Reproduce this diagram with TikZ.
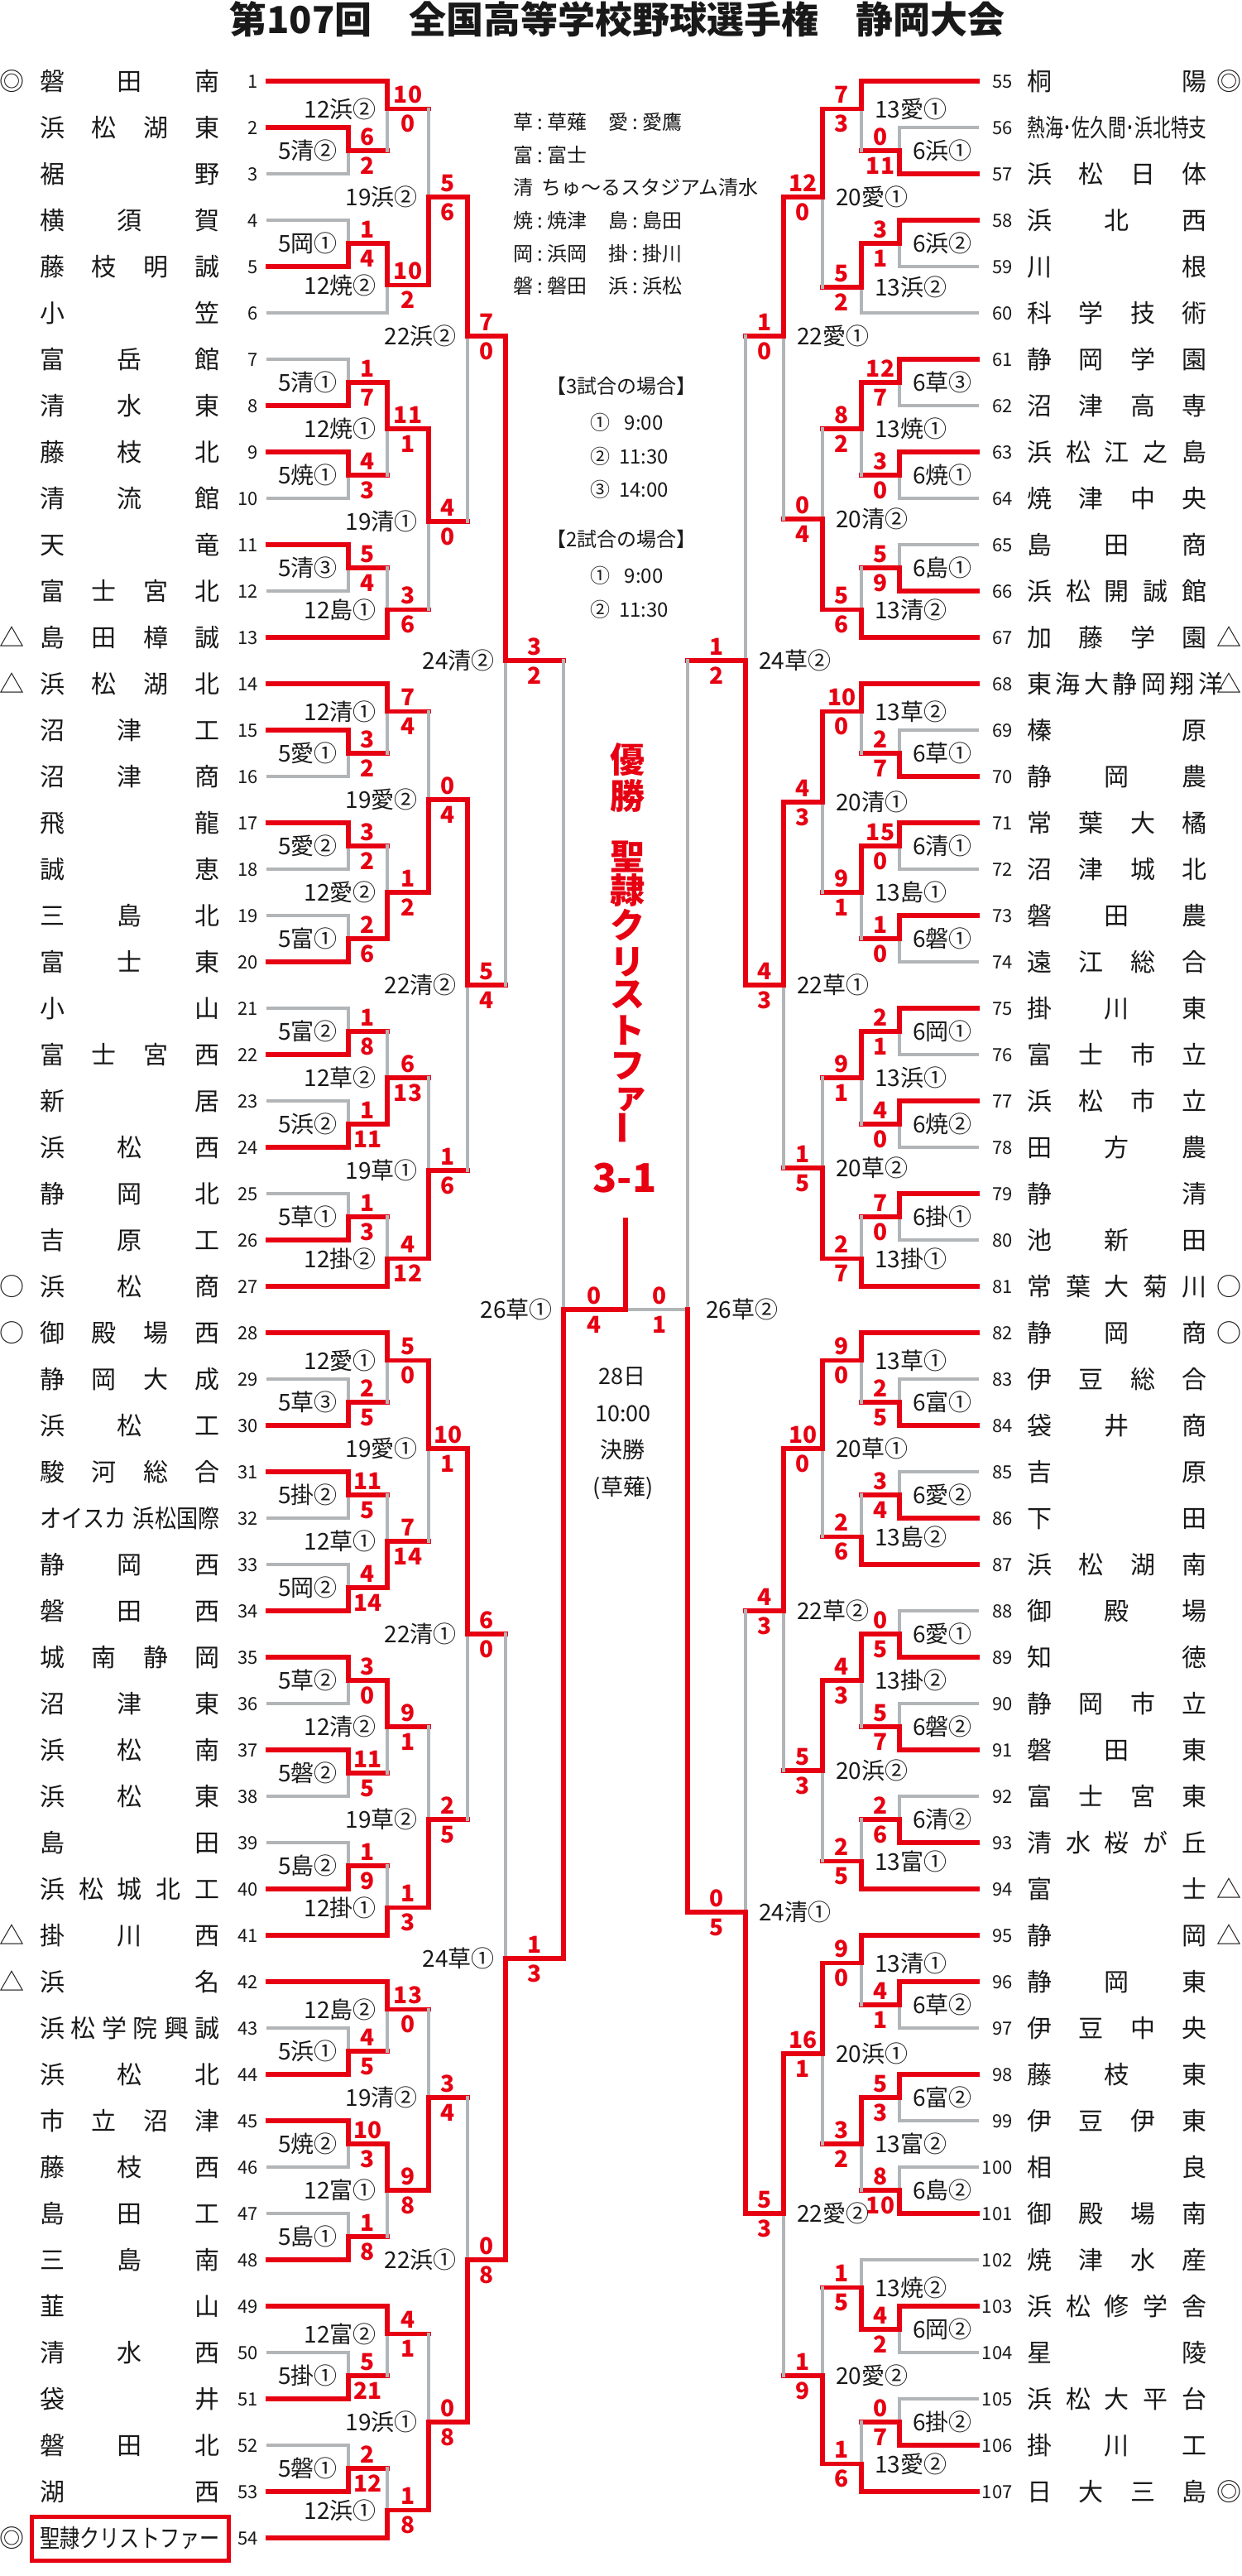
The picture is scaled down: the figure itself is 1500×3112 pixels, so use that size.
\documentclass[tikz,border=0pt]{standalone}
\usepackage{fontspec}
\setmainfont{Noto Sans CJK JP}
\usepackage{graphicx}
\usetikzlibrary{calc}
\definecolor{jred}{RGB}{230,0,18}
\definecolor{jgrey}{RGB}{178,181,184}
\definecolor{jink}{RGB}{25,25,25}
\def\cLa{421}\def\cLb{468}\def\cLc{518}\def\cLd{565}\def\cLe{611}\def\cLf{681}
\def\cRa{1087}\def\cRb{1041}\def\cRc{994}\def\cRd{947}\def\cRe{901}\def\cRf{831}
\def\scsplit#1/#2\relax{\def\scA{#1}\def\scB{#2}}
\newcommand\cln{\hspace{2.5pt}:\hspace{2.5pt}}
\tikzset{
  rl/.style={draw=jred, line width=2.75pt, line cap=rect, line join=miter},
  gl/.style={draw=jgrey, line width=1.75pt, line cap=rect},
  tname/.style={inner sep=0pt, text=jink, font=\fontsize{15pt}{15pt}\selectfont, text height=11.4pt, text depth=0pt},
  num/.style={inner sep=0pt, text=jink, font=\fontsize{11pt}{11pt}\selectfont, text height=8pt, text depth=0pt},
  lab/.style={inner sep=0pt, text=jink, font=\fontsize{14pt}{14pt}\selectfont, text height=10.6pt, text depth=0pt},
  sc/.style={inner sep=0pt, text=jred, font=\fontsize{14pt}{14pt}\selectfont\bfseries, text height=10.2pt, text depth=0pt},
  mk/.style={inner sep=0pt, text=jink, font=\fontsize{15pt}{15pt}\selectfont, text height=11.4pt, text depth=0pt},
  leg/.style={inner sep=0pt, text=jink, font=\fontsize{12pt}{12pt}\selectfont, text height=9.1pt, text depth=0pt},
  fin/.style={inner sep=0pt, text=jink, font=\fontsize{13.5pt}{13.5pt}\selectfont, text height=10.2pt, text depth=0pt},
  champ/.style={inner sep=0pt, text=jred, font=\fontsize{21pt}{21pt}\selectfont\bfseries, text height=16pt, text depth=0pt},
}
\newcommand\tL[5]{%
  \coordinate (T#1) at (324,{42+56*#1});
  \draw[#5] (T#1) -- (#4,{42+56*#1});
  \node[num,anchor=east] (N#1) at (312,{42+56*#1}) {#1};
  \node[tname] (S#1) at (157,{42+56*#1}) {\makebox[108.5pt][s]{#2}};
  \ifx\relax#3\relax\else\node[mk] (K#1) at (14,{42+56*#1}) {#3};\fi
}
\newcommand\tR[5]{%
  \coordinate (T#1) at (1181,{42+56*(#1-54)});
  \draw[#5] (T#1) -- (#4,{42+56*(#1-54)});
  \node[num,anchor=east] (N#1) at (1224,{42+56*(#1-54)}) {#1};
  \node[tname] (S#1) at (1350,{42+56*(#1-54)}) {\makebox[108.5pt][s]{#2}};
  \ifx\relax#3\relax\else\node[mk] (K#1) at (1485,{42+56*(#1-54)}) {#3};\fi
}
\newcommand\mL[9]{%
  \coordinate (#1) at (#2,{42+56*#6});
  \if t#7\def\mWin{#4}\def\mLos{#5}\else\def\mWin{#5}\def\mLos{#4}\fi
  \draw[gl] (\mLos -| #1) -- (#1);
  \draw[rl] (\mWin -| #1) -- (#1) -- (#3,{42+56*#6});
  \node[lab,anchor=east] (#1L) at ($(#1)+(-13,0)$) {#8};
  \scsplit#9\relax
  \node[sc] (#1A) at ({(#2+#3)/2},{42+56*#6-17}) {\scA};
  \node[sc] (#1B) at ({(#2+#3)/2},{42+56*#6+18}) {\scB};
}
\newcommand\mR[9]{%
  \coordinate (#1) at (#2,{42+56*#6});
  \if t#7\def\mWin{#4}\def\mLos{#5}\else\def\mWin{#5}\def\mLos{#4}\fi
  \draw[gl] (\mLos -| #1) -- (#1);
  \draw[rl] (\mWin -| #1) -- (#1) -- (#3,{42+56*#6});
  \node[lab,anchor=west] (#1L) at ($(#1)+(16,0)$) {#8};
  \scsplit#9\relax
  \node[sc] (#1A) at ({(#2+#3)/2},{42+56*#6-17}) {\scA};
  \node[sc] (#1B) at ({(#2+#3)/2},{42+56*#6+18}) {\scB};
}
\begin{document}
\begin{tikzpicture}[x=0.5pt,y=-0.5pt]
\useasboundingbox (0,0) rectangle (1500,3112);
\fill[white] (0,0) rectangle (1500,3112);
% title
\node[inner sep=0pt, text=jink, font=\fontsize{22.5pt}{22.5pt}\selectfont\bfseries, text height=17.1pt, text depth=0pt] (title) at (746,23) {第107回　全国高等学校野球選手権　静岡大会};
% legend
\node[leg,anchor=west] (lg1) at (620,147) {草\cln 草薙};
\node[leg,anchor=west] (lg2) at (735,147) {愛\cln 愛鷹};
\node[leg,anchor=west] (lg3) at (620,187) {富\cln 富士};
\node[leg,anchor=west] (lg4) at (620,226) {清\hspace{5pt}ちゅ～るスタジアム清水};
\node[leg,anchor=west] (lg5) at (620,266) {焼\cln 焼津};
\node[leg,anchor=west] (lg6) at (735,266) {島\cln 島田};
\node[leg,anchor=west] (lg7) at (620,306) {岡\cln 浜岡};
\node[leg,anchor=west] (lg8) at (735,306) {掛\cln 掛川};
\node[leg,anchor=west] (lg9) at (620,345) {磐\cln 磐田};
\node[leg,anchor=west] (lg10) at (735,345) {浜\cln 浜松};
\node[leg] (sh1) at (751,466) {【3試合の場合】};
\node[leg] (sh2) at (725,510) {①}; \node[leg] (sh3) at (778,510) {9:00};
\node[leg] (sh4) at (725,551) {②}; \node[leg] (sh5) at (778,551) {11:30};
\node[leg] (sh6) at (725,591) {③}; \node[leg] (sh7) at (778,591) {14:00};
\node[leg] (sh8) at (751,651) {【2試合の場合】};
\node[leg] (sh9) at (725,695) {①}; \node[leg] (sh10) at (778,695) {9:00};
\node[leg] (sh11) at (725,736) {②}; \node[leg] (sh12) at (778,736) {11:30};
% left teams
\tL{1}{磐 田 南}{◎}{\cLb}{rl}
\tL{2}{浜 松 湖 東}{}{\cLa}{rl}
\tL{3}{裾 野}{}{\cLa}{gl}
\tL{4}{横 須 賀}{}{\cLa}{gl}
\tL{5}{藤 枝 明 誠}{}{\cLa}{rl}
\tL{6}{小 笠}{}{\cLb}{gl}
\tL{7}{富 岳 館}{}{\cLa}{gl}
\tL{8}{清 水 東}{}{\cLa}{rl}
\tL{9}{藤 枝 北}{}{\cLa}{rl}
\tL{10}{清 流 館}{}{\cLa}{gl}
\tL{11}{天 竜}{}{\cLa}{rl}
\tL{12}{富 士 宮 北}{}{\cLa}{gl}
\tL{13}{島 田 樟 誠}{△}{\cLb}{rl}
\tL{14}{浜 松 湖 北}{△}{\cLb}{rl}
\tL{15}{沼 津 工}{}{\cLa}{rl}
\tL{16}{沼 津 商}{}{\cLa}{gl}
\tL{17}{飛 龍}{}{\cLa}{rl}
\tL{18}{誠 恵}{}{\cLa}{gl}
\tL{19}{三 島 北}{}{\cLa}{gl}
\tL{20}{富 士 東}{}{\cLa}{rl}
\tL{21}{小 山}{}{\cLa}{gl}
\tL{22}{富 士 宮 西}{}{\cLa}{rl}
\tL{23}{新 居}{}{\cLa}{gl}
\tL{24}{浜 松 西}{}{\cLa}{rl}
\tL{25}{静 岡 北}{}{\cLa}{gl}
\tL{26}{吉 原 工}{}{\cLa}{rl}
\tL{27}{浜 松 商}{○}{\cLb}{rl}
\tL{28}{御 殿 場 西}{○}{\cLb}{rl}
\tL{29}{静 岡 大 成}{}{\cLa}{gl}
\tL{30}{浜 松 工}{}{\cLa}{rl}
\tL{31}{駿 河 総 合}{}{\cLa}{rl}
\tL{32}{\resizebox{108.5pt}{\height}{オイスカ\hspace{5pt}浜松国際}}{}{\cLa}{gl}
\tL{33}{静 岡 西}{}{\cLa}{gl}
\tL{34}{磐 田 西}{}{\cLa}{rl}
\tL{35}{城 南 静 岡}{}{\cLa}{rl}
\tL{36}{沼 津 東}{}{\cLa}{gl}
\tL{37}{浜 松 南}{}{\cLa}{rl}
\tL{38}{浜 松 東}{}{\cLa}{gl}
\tL{39}{島 田}{}{\cLa}{gl}
\tL{40}{浜 松 城 北 工}{}{\cLa}{rl}
\tL{41}{掛 川 西}{△}{\cLb}{rl}
\tL{42}{浜 名}{△}{\cLb}{rl}
\tL{43}{浜 松 学 院 興 誠}{}{\cLa}{gl}
\tL{44}{浜 松 北}{}{\cLa}{rl}
\tL{45}{市 立 沼 津}{}{\cLa}{rl}
\tL{46}{藤 枝 西}{}{\cLa}{gl}
\tL{47}{島 田 工}{}{\cLa}{gl}
\tL{48}{三 島 南}{}{\cLa}{rl}
\tL{49}{韮 山}{}{\cLb}{rl}
\tL{50}{清 水 西}{}{\cLa}{gl}
\tL{51}{袋 井}{}{\cLa}{rl}
\tL{52}{磐 田 北}{}{\cLa}{gl}
\tL{53}{湖 西}{}{\cLa}{rl}
\tL{54}{\resizebox{108.5pt}{\height}{聖隷クリストファー}}{◎}{\cLb}{rl}
\node[draw=jred, line width=2.5pt, inner sep=0pt, minimum width=119pt, minimum height=26.5pt] (box54) at (157,3067) {};
% right teams
\tR{55}{桐 陽}{◎}{\cRb}{rl}
\tR{56}{\resizebox{108.5pt}{\height}{熱海･佐久間･浜北特支}}{}{\cRa}{gl}
\tR{57}{浜 松 日 体}{}{\cRa}{rl}
\tR{58}{浜 北 西}{}{\cRa}{rl}
\tR{59}{川 根}{}{\cRa}{gl}
\tR{60}{科 学 技 術}{}{\cRb}{gl}
\tR{61}{静 岡 学 園}{}{\cRa}{rl}
\tR{62}{沼 津 高 専}{}{\cRa}{gl}
\tR{63}{浜 松 江 之 島}{}{\cRa}{rl}
\tR{64}{焼 津 中 央}{}{\cRa}{gl}
\tR{65}{島 田 商}{}{\cRa}{gl}
\tR{66}{浜 松 開 誠 館}{}{\cRa}{rl}
\tR{67}{加 藤 学 園}{△}{\cRb}{rl}
\tR{68}{東 海 大 静 岡 翔 洋}{△}{\cRb}{rl}
\tR{69}{榛 原}{}{\cRa}{gl}
\tR{70}{静 岡 農}{}{\cRa}{rl}
\tR{71}{常 葉 大 橘}{}{\cRa}{rl}
\tR{72}{沼 津 城 北}{}{\cRa}{gl}
\tR{73}{磐 田 農}{}{\cRa}{rl}
\tR{74}{遠 江 総 合}{}{\cRa}{gl}
\tR{75}{掛 川 東}{}{\cRa}{rl}
\tR{76}{富 士 市 立}{}{\cRa}{gl}
\tR{77}{浜 松 市 立}{}{\cRa}{rl}
\tR{78}{田 方 農}{}{\cRa}{gl}
\tR{79}{静 清}{}{\cRa}{rl}
\tR{80}{池 新 田}{}{\cRa}{gl}
\tR{81}{常 葉 大 菊 川}{○}{\cRb}{rl}
\tR{82}{静 岡 商}{○}{\cRb}{rl}
\tR{83}{伊 豆 総 合}{}{\cRa}{gl}
\tR{84}{袋 井 商}{}{\cRa}{rl}
\tR{85}{吉 原}{}{\cRa}{gl}
\tR{86}{下 田}{}{\cRa}{rl}
\tR{87}{浜 松 湖 南}{}{\cRb}{rl}
\tR{88}{御 殿 場}{}{\cRa}{gl}
\tR{89}{知 徳}{}{\cRa}{rl}
\tR{90}{静 岡 市 立}{}{\cRa}{gl}
\tR{91}{磐 田 東}{}{\cRa}{rl}
\tR{92}{富 士 宮 東}{}{\cRa}{gl}
\tR{93}{清 水 桜 が 丘}{}{\cRa}{rl}
\tR{94}{富 士}{△}{\cRb}{rl}
\tR{95}{静 岡}{△}{\cRb}{rl}
\tR{96}{静 岡 東}{}{\cRa}{rl}
\tR{97}{伊 豆 中 央}{}{\cRa}{gl}
\tR{98}{藤 枝 東}{}{\cRa}{rl}
\tR{99}{伊 豆 伊 東}{}{\cRa}{gl}
\tR{100}{相 良}{}{\cRa}{gl}
\tR{101}{御 殿 場 南}{}{\cRa}{rl}
\tR{102}{焼 津 水 産}{}{\cRb}{gl}
\tR{103}{浜 松 修 学 舎}{}{\cRa}{rl}
\tR{104}{星 陵}{}{\cRa}{gl}
\tR{105}{浜 松 大 平 台}{}{\cRa}{gl}
\tR{106}{掛 川 工}{}{\cRa}{rl}
\tR{107}{日 大 三 島}{◎}{\cRb}{rl}
% left matches
\mL{l1}{\cLa}{\cLb}{T2}{T3}{2.5}{t}{5清②}{6/2}
\mL{l2}{\cLb}{\cLc}{T1}{l1}{1.6}{t}{12浜②}{10/0}
\mL{l3}{\cLa}{\cLb}{T4}{T5}{4.5}{b}{5岡①}{1/4}
\mL{l4}{\cLb}{\cLc}{l3}{T6}{5.4}{t}{12焼②}{10/2}
\mL{l5}{\cLc}{\cLd}{l2}{l4}{3.5}{b}{19浜②}{5/6}
\mL{l6}{\cLa}{\cLb}{T7}{T8}{7.5}{b}{5清①}{1/7}
\mL{l7}{\cLa}{\cLb}{T9}{T10}{9.5}{t}{5焼①}{4/3}
\mL{l8}{\cLb}{\cLc}{l6}{l7}{8.5}{t}{12焼①}{11/1}
\mL{l9}{\cLa}{\cLb}{T11}{T12}{11.5}{t}{5清③}{5/4}
\mL{l10}{\cLb}{\cLc}{l9}{T13}{12.4}{b}{12島①}{3/6}
\mL{l11}{\cLc}{\cLd}{l8}{l10}{10.5}{t}{19清①}{4/0}
\mL{l12}{\cLd}{\cLe}{l5}{l11}{6.5}{t}{22浜②}{7/0}
\mL{l13}{\cLa}{\cLb}{T15}{T16}{15.5}{t}{5愛①}{3/2}
\mL{l14}{\cLb}{\cLc}{T14}{l13}{14.6}{t}{12清①}{7/4}
\mL{l15}{\cLa}{\cLb}{T17}{T18}{17.5}{t}{5愛②}{3/2}
\mL{l16}{\cLa}{\cLb}{T19}{T20}{19.5}{b}{5富①}{2/6}
\mL{l17}{\cLb}{\cLc}{l15}{l16}{18.5}{b}{12愛②}{1/2}
\mL{l18}{\cLc}{\cLd}{l14}{l17}{16.5}{b}{19愛②}{0/4}
\mL{l19}{\cLa}{\cLb}{T21}{T22}{21.5}{b}{5富②}{1/8}
\mL{l20}{\cLa}{\cLb}{T23}{T24}{23.5}{b}{5浜②}{1/11}
\mL{l21}{\cLb}{\cLc}{l19}{l20}{22.5}{b}{12草②}{6/13}
\mL{l22}{\cLa}{\cLb}{T25}{T26}{25.5}{b}{5草①}{1/3}
\mL{l23}{\cLb}{\cLc}{l22}{T27}{26.4}{b}{12掛②}{4/12}
\mL{l24}{\cLc}{\cLd}{l21}{l23}{24.5}{b}{19草①}{1/6}
\mL{l25}{\cLd}{\cLe}{l18}{l24}{20.5}{t}{22清②}{5/4}
\mL{l26}{\cLe}{\cLf}{l12}{l25}{13.5}{t}{24清②}{3/2}
\mL{l27}{\cLa}{\cLb}{T29}{T30}{29.5}{b}{5草③}{2/5}
\mL{l28}{\cLb}{\cLc}{T28}{l27}{28.6}{t}{12愛①}{5/0}
\mL{l29}{\cLa}{\cLb}{T31}{T32}{31.5}{t}{5掛②}{11/5}
\mL{l30}{\cLa}{\cLb}{T33}{T34}{33.5}{b}{5岡②}{4/14}
\mL{l31}{\cLb}{\cLc}{l29}{l30}{32.5}{b}{12草①}{7/14}
\mL{l32}{\cLc}{\cLd}{l28}{l31}{30.5}{t}{19愛①}{10/1}
\mL{l33}{\cLa}{\cLb}{T35}{T36}{35.5}{t}{5草②}{3/0}
\mL{l34}{\cLa}{\cLb}{T37}{T38}{37.5}{t}{5磐②}{11/5}
\mL{l35}{\cLb}{\cLc}{l33}{l34}{36.5}{t}{12清②}{9/1}
\mL{l36}{\cLa}{\cLb}{T39}{T40}{39.5}{b}{5島②}{1/9}
\mL{l37}{\cLb}{\cLc}{l36}{T41}{40.4}{b}{12掛①}{1/3}
\mL{l38}{\cLc}{\cLd}{l35}{l37}{38.5}{b}{19草②}{2/5}
\mL{l39}{\cLd}{\cLe}{l32}{l38}{34.5}{t}{22清①}{6/0}
\mL{l40}{\cLa}{\cLb}{T43}{T44}{43.5}{b}{5浜①}{4/5}
\mL{l41}{\cLb}{\cLc}{T42}{l40}{42.6}{t}{12島②}{13/0}
\mL{l42}{\cLa}{\cLb}{T45}{T46}{45.5}{t}{5焼②}{10/3}
\mL{l43}{\cLa}{\cLb}{T47}{T48}{47.5}{b}{5島①}{1/8}
\mL{l44}{\cLb}{\cLc}{l42}{l43}{46.5}{t}{12富①}{9/8}
\mL{l45}{\cLc}{\cLd}{l41}{l44}{44.5}{b}{19清②}{3/4}
\mL{l46}{\cLa}{\cLb}{T50}{T51}{50.5}{b}{5掛①}{5/21}
\mL{l47}{\cLb}{\cLc}{T49}{l46}{49.6}{t}{12富②}{4/1}
\mL{l48}{\cLa}{\cLb}{T52}{T53}{52.5}{b}{5磐①}{2/12}
\mL{l49}{\cLb}{\cLc}{l48}{T54}{53.4}{b}{12浜①}{1/8}
\mL{l50}{\cLc}{\cLd}{l47}{l49}{51.5}{b}{19浜①}{0/8}
\mL{l51}{\cLd}{\cLe}{l45}{l50}{48.0}{b}{22浜①}{0/8}
\mL{l52}{\cLe}{\cLf}{l39}{l51}{41.5}{b}{24草①}{1/3}
% right matches
\mR{r1}{\cRa}{\cRb}{T56}{T57}{2.5}{b}{6浜①}{0/11}
\mR{r2}{\cRb}{\cRc}{T55}{r1}{1.6}{t}{13愛①}{7/3}
\mR{r3}{\cRa}{\cRb}{T58}{T59}{4.5}{t}{6浜②}{3/1}
\mR{r4}{\cRb}{\cRc}{r3}{T60}{5.45}{t}{13浜②}{5/2}
\mR{r5}{\cRc}{\cRd}{r2}{r4}{3.5}{t}{20愛①}{12/0}
\mR{r6}{\cRa}{\cRb}{T61}{T62}{7.5}{t}{6草③}{12/7}
\mR{r7}{\cRa}{\cRb}{T63}{T64}{9.5}{t}{6焼①}{3/0}
\mR{r8}{\cRb}{\cRc}{r6}{r7}{8.5}{t}{13焼①}{8/2}
\mR{r9}{\cRa}{\cRb}{T65}{T66}{11.5}{b}{6島①}{5/9}
\mR{r10}{\cRb}{\cRc}{r9}{T67}{12.4}{b}{13清②}{5/6}
\mR{r11}{\cRc}{\cRd}{r8}{r10}{10.45}{b}{20清②}{0/4}
\mR{r12}{\cRd}{\cRe}{r5}{r11}{6.5}{t}{22愛①}{1/0}
\mR{r13}{\cRa}{\cRb}{T69}{T70}{15.5}{b}{6草①}{2/7}
\mR{r14}{\cRb}{\cRc}{T68}{r13}{14.6}{t}{13草②}{10/0}
\mR{r15}{\cRa}{\cRb}{T71}{T72}{17.5}{t}{6清①}{15/0}
\mR{r16}{\cRa}{\cRb}{T73}{T74}{19.5}{t}{6磐①}{1/0}
\mR{r17}{\cRb}{\cRc}{r15}{r16}{18.5}{t}{13島①}{9/1}
\mR{r18}{\cRc}{\cRd}{r14}{r17}{16.55}{t}{20清①}{4/3}
\mR{r19}{\cRa}{\cRb}{T75}{T76}{21.5}{t}{6岡①}{2/1}
\mR{r20}{\cRa}{\cRb}{T77}{T78}{23.5}{t}{6焼②}{4/0}
\mR{r21}{\cRb}{\cRc}{r19}{r20}{22.5}{t}{13浜①}{9/1}
\mR{r22}{\cRa}{\cRb}{T79}{T80}{25.5}{t}{6掛①}{7/0}
\mR{r23}{\cRb}{\cRc}{r22}{T81}{26.4}{b}{13掛①}{2/7}
\mR{r24}{\cRc}{\cRd}{r21}{r23}{24.45}{b}{20草②}{1/5}
\mR{r25}{\cRd}{\cRe}{r18}{r24}{20.5}{t}{22草①}{4/3}
\mR{r26}{\cRe}{\cRf}{r12}{r25}{13.5}{b}{24草②}{1/2}
\mR{r27}{\cRa}{\cRb}{T83}{T84}{29.5}{b}{6富①}{2/5}
\mR{r28}{\cRb}{\cRc}{T82}{r27}{28.6}{t}{13草①}{9/0}
\mR{r29}{\cRa}{\cRb}{T85}{T86}{31.5}{b}{6愛②}{3/4}
\mR{r30}{\cRb}{\cRc}{r29}{T87}{32.4}{b}{13島②}{2/6}
\mR{r31}{\cRc}{\cRd}{r28}{r30}{30.5}{t}{20草①}{10/0}
\mR{r32}{\cRa}{\cRb}{T88}{T89}{34.5}{b}{6愛①}{0/5}
\mR{r33}{\cRa}{\cRb}{T90}{T91}{36.5}{b}{6磐②}{5/7}
\mR{r34}{\cRb}{\cRc}{r32}{r33}{35.5}{t}{13掛②}{4/3}
\mR{r35}{\cRa}{\cRb}{T92}{T93}{38.5}{b}{6清②}{2/6}
\mR{r36}{\cRb}{\cRc}{r35}{T94}{39.4}{b}{13富①}{2/5}
\mR{r37}{\cRc}{\cRd}{r34}{r36}{37.45}{t}{20浜②}{5/3}
\mR{r38}{\cRd}{\cRe}{r31}{r37}{34.0}{t}{22草②}{4/3}
\mR{r39}{\cRa}{\cRb}{T96}{T97}{42.5}{t}{6草②}{4/1}
\mR{r40}{\cRb}{\cRc}{T95}{r39}{41.6}{t}{13清①}{9/0}
\mR{r41}{\cRa}{\cRb}{T98}{T99}{44.5}{t}{6富②}{5/3}
\mR{r42}{\cRa}{\cRb}{T100}{T101}{46.5}{b}{6島②}{8/10}
\mR{r43}{\cRb}{\cRc}{r41}{r42}{45.5}{t}{13富②}{3/2}
\mR{r44}{\cRc}{\cRd}{r40}{r43}{43.55}{t}{20浜①}{16/1}
\mR{r45}{\cRa}{\cRb}{T103}{T104}{49.5}{t}{6岡②}{4/2}
\mR{r46}{\cRb}{\cRc}{T102}{r45}{48.6}{b}{13焼②}{1/5}
\mR{r47}{\cRa}{\cRb}{T105}{T106}{51.5}{b}{6掛②}{0/7}
\mR{r48}{\cRb}{\cRc}{r47}{T107}{52.4}{b}{13愛②}{1/6}
\mR{r49}{\cRc}{\cRd}{r46}{r48}{50.5}{b}{20愛②}{1/9}
\mR{r50}{\cRd}{\cRe}{r44}{r49}{47.0}{t}{22愛②}{5/3}
\mR{r51}{\cRe}{\cRf}{r38}{r50}{40.5}{b}{24清①}{0/5}
% semifinals and final
\coordinate (r52) at (\cRf,{42+56*27.5});
\coordinate (fin) at (756,{42+56*27.5});
\draw[gl] (r26 -| r52) -- (r52) -- (fin);
\draw[rl] (r51 -| r52) -- (r52);
\node[lab,anchor=west] (r52L) at ($(r52)+(22,0)$) {26草②};
\node[sc] (r52A) at (797,{42+56*27.5-17}) {0};
\node[sc] (r52B) at (797,{42+56*27.5+18}) {1};
\mL{l53}{\cLf}{756}{l26}{l52}{27.5}{b}{26草①}{0/4}
\coordinate (champ) at (756,1474);
\draw[rl] (fin) -- (champ);
% champion text
\node[champ] (c1) at (758,917) {優};
\node[champ] (c2) at (758,961) {勝};
\node[champ] (c3) at (758,1034) {聖};
\node[champ] (c4) at (758,1075) {隷};
\node[champ] (c5) at (758,1117) {ク};
\node[champ] (c6) at (758,1161) {リ};
\node[champ] (c7) at (758,1200) {ス};
\node[champ] (c8) at (758,1244) {ト};
\node[champ] (c9) at (758,1286) {フ};
\node[champ] (c10) at (762,1322) {ァ};
\node[champ] (c11) at (758,1357) {\rotatebox[origin=c]{90}{ー}};
\node[inner sep=0pt, text=jred, font=\fontsize{24pt}{24pt}\selectfont\bfseries, text height=17.6pt, text depth=0pt] (score) at (755,1423) {3-1};
% final info
\node[fin] (f1) at (752,1662) {28日};
\node[fin] (f2) at (753,1707) {10:00};
\node[fin] (f3) at (752,1751) {決勝};
\node[fin] (f4) at (753,1796) {(草薙)};
\end{tikzpicture}
\end{document}
